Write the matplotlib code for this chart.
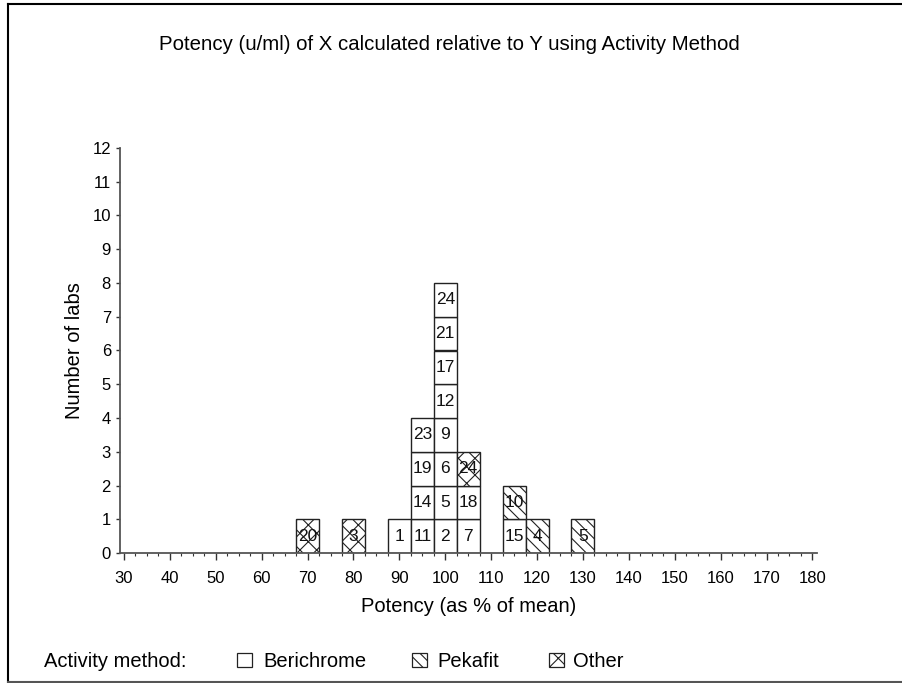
import matplotlib
matplotlib.use("Agg")
import matplotlib.pyplot as plt
from matplotlib.patches import Rectangle
from matplotlib.lines import Line2D
from matplotlib.ticker import FixedLocator
import numpy as np

plt.rcParams['font.family'] = ['Liberation Sans', 'DejaVu Sans']
plt.rcParams['hatch.linewidth'] = 0.8

# potency bins (% of mean) and the labs stacked in each, bottom to top
bin_centres = [70, 80, 90, 95, 100, 105, 115, 120, 130]
lab_ids = [
    [20],
    [3],
    [1],
    [11, 14, 19, 23],
    [2, 5, 6, 9, 12, 17, 21, 24],
    [7, 18, 24],
    [15, 10],
    [4],
    [5],
]
lab_methods = [
    ["Other"],
    ["Other"],
    ["Berichrome"],
    ["Berichrome"] * 4,
    ["Berichrome"] * 8,
    ["Berichrome", "Berichrome", "Other"],
    ["Berichrome", "Pekafit"],
    ["Pekafit"],
    ["Pekafit"],
]
method_names = ["Berichrome", "Pekafit", "Other"]
method_hatch = {"Berichrome": None, "Pekafit": "\\\\\\", "Other": "xx"}

W, H = 903, 683
fig = plt.figure(figsize=(W / 100, H / 100), dpi=100)
ax = fig.add_axes([120 / W, 130 / H, 697 / W, 405 / H])

# one unit box per lab
for x, ids, meths in zip(bin_centres, lab_ids, lab_methods):
    for level, (lab, m) in enumerate(zip(ids, meths)):
        ax.bar(x, 1, width=5, bottom=level, facecolor='white',
               edgecolor='#222222', linewidth=1.0, hatch=method_hatch[m])
        ax.text(x, level + 0.5, str(lab), ha='center', va='center',
                fontsize=12.5, color='#111111')

ax.set_xlim(29.13, 181)
ax.set_ylim(0, 12)
ax.xaxis.set_major_locator(FixedLocator(np.arange(30, 181, 10)))
ax.xaxis.set_minor_locator(FixedLocator(np.arange(30, 180.1, 2.5)))
ax.yaxis.set_major_locator(FixedLocator(np.arange(0, 13, 1)))

for side in ['top', 'right']:
    ax.spines[side].set_visible(False)
for side in ['left', 'bottom']:
    ax.spines[side].set_color('#555555')
    ax.spines[side].set_linewidth(1.3)

ax.tick_params(axis='x', which='major', length=4.7, width=1, color='#333333',
               labelsize=12, pad=8)
ax.tick_params(axis='x', which='minor', length=2.4, width=0.8, color='#333333')
ax.tick_params(axis='y', length=3, width=1, color='#333333', labelsize=12, pad=3.5)

ax.set_xlabel("Potency (as % of mean)", fontsize=14.5, labelpad=8)
ax.set_ylabel("Number of labs", fontsize=14.5, labelpad=6)

fig.text(0.498, 1 - 45 / H,
         "Potency (u/ml) of X calculated relative to Y using Activity Method",
         ha='center', va='center', fontsize=14.7)

# legend row along the bottom
fig.text(44 / W, 1 - 661.5 / H, "Activity method:", ha='left', va='center',
         fontsize=14.5)
legend_box_x = [236.7, 412, 549]
legend_text_x = [263, 437, 573]
for name, bx, tx in zip(method_names, legend_box_x, legend_text_x):
    fig.patches.append(Rectangle((bx / W, 1 - 667 / H), 15 / W, 14 / H,
                                 transform=fig.transFigure, figure=fig,
                                 facecolor='white', edgecolor='#222222',
                                 linewidth=0.9, hatch=method_hatch[name]))
    fig.text(tx / W, 1 - 661.5 / H, name, ha='left', va='center', fontsize=14.5)

# frame around the chart (top, left, bottom)
fig.add_artist(Line2D([8 / W, 1], [1 - 4 / H, 1 - 4 / H], transform=fig.transFigure,
                      color='black', linewidth=1.5))
fig.add_artist(Line2D([8 / W, 8 / W], [1 - 4 / H, 1 - 682 / H], transform=fig.transFigure,
                      color='black', linewidth=1.5))
fig.add_artist(Line2D([8 / W, 1], [1 - 682 / H, 1 - 682 / H], transform=fig.transFigure,
                      color='#555555', linewidth=1.5))

fig.savefig("out.png", dpi=100)
